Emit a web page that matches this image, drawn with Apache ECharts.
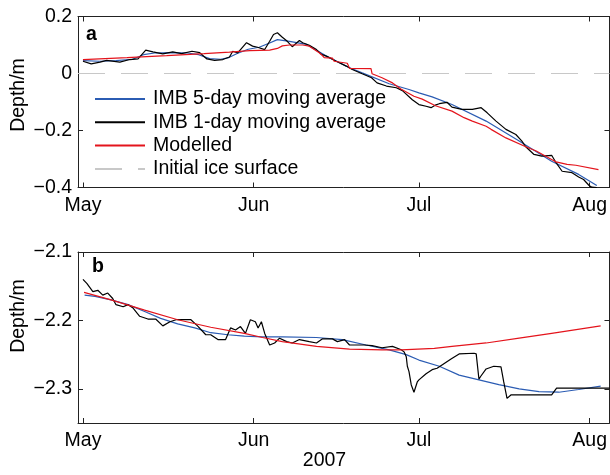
<!DOCTYPE html>
<html>
<head>
<meta charset="utf-8">
<script src="https://cdn.jsdelivr.net/npm/echarts@6/dist/echarts.min.js"></script>
<style>
  html, body { margin: 0; padding: 0; background: #fff; }
  #chart { width: 610px; height: 475px; }
</style>
</head>
<body>
<div id="chart"></div>
<script>
// x values are days since 1 May 2007
const monthDays = [0, 31, 61, 92];
const monthNames = ['May', 'Jun', 'Jul', 'Aug'];
const surfaceTicks = [-0.4, -0.2, 0, 0.2];
const bottomTicks = [-2.3, -2.2, -2.1];
const initialSurface = 0;

// (a) ice surface position, m
const surfaceImb5 = [
  [0, 0.045], [3, 0.043], [6, 0.045], [9, 0.050], [11, 0.066], [13, 0.072], [16, 0.073],
  [19, 0.072], [21, 0.066], [23, 0.052], [25, 0.050], [26.5, 0.056], [28, 0.070], [30, 0.085],
  [32, 0.092], [34, 0.108], [35.3, 0.119], [37.5, 0.113], [40.6, 0.102], [44.2, 0.061],
  [48.4, 0.020], [50.7, 0.002], [55.6, -0.036], [59.2, -0.056], [61.0, -0.068], [63.4, -0.082],
  [67.0, -0.109], [73.2, -0.167], [79.2, -0.237], [85.1, -0.308], [90.0, -0.354], [93.3, -0.393]
];
const surfaceImb1 = [
  [0, 0.043], [1.5, 0.034], [3.1, 0.040], [4.3, 0.046], [6.7, 0.040], [8.5, 0.049], [10.0, 0.051],
  [11.4, 0.082], [12.7, 0.076], [14.5, 0.069], [16.3, 0.076], [17.9, 0.070], [19.8, 0.078],
  [21.2, 0.073], [22.5, 0.051], [23.9, 0.046], [25.4, 0.049], [26.6, 0.058], [27.2, 0.078],
  [28.1, 0.072], [29.7, 0.108], [30.8, 0.096], [31.7, 0.092], [33.0, 0.084], [33.9, 0.113],
  [34.6, 0.137], [35.3, 0.143], [36.2, 0.127], [37.1, 0.113], [38.0, 0.094], [39.3, 0.116],
  [39.9, 0.108], [41.1, 0.099], [42.4, 0.084], [43.3, 0.067], [44.2, 0.061], [46.0, 0.043],
  [47.8, 0.026], [48.9, 0.014], [50.7, -0.001], [52.4, -0.015], [53.4, -0.033], [55.1, -0.044],
  [56.9, -0.050], [58.0, -0.060], [59.8, -0.092], [61.0, -0.109], [62.3, -0.115], [63.2, -0.120],
  [64.1, -0.110], [64.7, -0.106], [66.1, -0.101], [67.0, -0.118], [68.8, -0.126], [70.7, -0.126],
  [72.3, -0.120], [73.4, -0.138], [75.0, -0.167], [76.8, -0.196], [78.6, -0.214], [79.7, -0.237],
  [80.4, -0.257], [81.9, -0.284], [83.3, -0.290], [85.1, -0.287], [85.9, -0.313], [87.0, -0.343],
  [88.8, -0.348], [90.0, -0.363], [90.9, -0.372], [91.9, -0.393], [92.4, -0.399], [93.3, -0.400]
];
const surfaceModel = [
  [0, 0.049], [8, 0.056], [15.2, 0.063], [22, 0.070], [26.6, 0.075], [30.3, 0.080], [33.9, 0.082],
  [35.3, 0.088], [36.2, 0.097], [37.5, 0.100], [39.9, 0.100], [41.1, 0.096], [42.9, 0.073],
  [43.3, 0.066], [43.8, 0.056], [45.3, 0.054], [45.6, 0.043], [48.0, 0.036], [48.4, 0.018],
  [52.3, 0.017], [52.5, -0.001], [54.3, -0.015], [56.2, -0.033], [57.8, -0.055], [60.1, -0.080],
  [61.6, -0.090], [64.0, -0.113], [67.0, -0.132], [69.2, -0.155], [70.7, -0.167], [73.2, -0.185],
  [74.1, -0.196], [76.8, -0.226], [80.4, -0.257], [82.3, -0.272], [85.1, -0.302], [85.9, -0.310],
  [87.9, -0.319], [89.5, -0.322], [93.6, -0.337]
];

// (b) ice bottom position, m
const bottomImb5 = [
  [0.3, -2.163], [2.2, -2.165], [5.1, -2.170], [8.2, -2.177], [11.2, -2.187], [14.1, -2.197],
  [17.2, -2.205], [20.3, -2.211], [23.2, -2.218], [26.3, -2.221], [29.3, -2.223], [32.6, -2.224],
  [36.2, -2.224], [42.4, -2.225], [47.1, -2.228], [51.4, -2.236], [55.6, -2.243], [58.7, -2.250],
  [61.0, -2.258], [64.7, -2.267], [68.3, -2.280], [71.9, -2.287], [75.5, -2.294], [79.2, -2.300],
  [82.8, -2.304], [86.4, -2.305], [90.0, -2.301], [94.0, -2.296]
];
const bottomImb1 = [
  [0, -2.140], [0.7, -2.146], [0.9, -2.147], [1.8, -2.158], [2.7, -2.156], [3.6, -2.163],
  [4.5, -2.160], [5.4, -2.168], [6.0, -2.177], [7.3, -2.180], [8.2, -2.177], [9.1, -2.182],
  [10.3, -2.194], [11.8, -2.198], [13.2, -2.198], [14.5, -2.208], [15.8, -2.202], [16.9, -2.199],
  [19.6, -2.199], [20.8, -2.208], [22.3, -2.221], [23.2, -2.221], [24.5, -2.228], [25.9, -2.228],
  [26.8, -2.211], [27.7, -2.214], [28.6, -2.209], [29.5, -2.219], [30.4, -2.199], [31.3, -2.202],
  [31.8, -2.211], [32.4, -2.202], [33.0, -2.219], [33.9, -2.236], [34.8, -2.233], [35.7, -2.226],
  [37.0, -2.231], [38.0, -2.233], [39.3, -2.228], [41.1, -2.231], [42.4, -2.233], [43.5, -2.227],
  [45.3, -2.227], [46.2, -2.231], [47.5, -2.228], [48.4, -2.236], [51.1, -2.236], [52.5, -2.237],
  [54.3, -2.240], [56.2, -2.238], [57.8, -2.243], [58.3, -2.246], [58.7, -2.253], [58.9, -2.267],
  [59.2, -2.275], [59.6, -2.294], [60.1, -2.305], [60.7, -2.290], [61.0, -2.287], [62.3, -2.278],
  [63.4, -2.272], [64.3, -2.270], [65.6, -2.263], [66.9, -2.256], [68.3, -2.249], [71.0, -2.248],
  [71.4, -2.249], [71.9, -2.286], [72.2, -2.282], [73.2, -2.271], [74.6, -2.267], [75.9, -2.268],
  [76.4, -2.290], [77.0, -2.314], [77.7, -2.309], [85.1, -2.309], [86.0, -2.299], [95.6, -2.299]
];
const bottomModel = [
  [0.2, -2.159], [5.1, -2.170], [11.2, -2.185], [17.2, -2.199], [23.2, -2.210], [29.3, -2.219],
  [32.6, -2.225], [36.2, -2.231], [42.4, -2.238], [48.4, -2.242], [54.3, -2.243], [57.8, -2.243],
  [63.8, -2.241], [67.0, -2.238], [73.2, -2.233], [79.2, -2.226], [85.1, -2.219], [94.0, -2.208]
];

const names = ['IMB 5-day moving average', 'IMB 1-day moving average', 'Modelled', 'Initial ice surface'];
const colors = ['#2b5cb3', '#000000', '#e4141c', '#c8c8c8'];

const FONT = '"Liberation Sans", Arial, Helvetica, sans-serif';
const FS = 19.5;
const AXIS_COLOR = '#222';
const X_MIN = -0.9, X_MAX = 95.6;
const minus = s => s.replace('-', '\u2212');

const chart = echarts.init(document.getElementById('chart'), null, { renderer: 'canvas' });

const grids = [
  { left: 78, right: -1, top: 16.5, height: 171 },
  { left: 78, right: -1, top: 252, height: 171 }
];

function xAxes(gridIndex) {
  const base = {
    type: 'value', gridIndex, min: X_MIN, max: X_MAX,
    axisLine: { show: true, onZero: false, lineStyle: { color: AXIS_COLOR, width: 1 } },
    axisTick: { show: true, inside: true, length: 5, customValues: monthDays, lineStyle: { color: AXIS_COLOR } },
    splitLine: { show: false }
  };
  return [
    Object.assign({}, base, {
      position: 'bottom',
      axisLabel: {
        show: true, customValues: monthDays, margin: 8,
        color: '#000', fontFamily: FONT, fontSize: FS,
        formatter: v => monthNames[monthDays.indexOf(Math.round(v))] || ''
      }
    }),
    Object.assign({}, base, { position: 'top', axisLabel: { show: false } })
  ];
}

function yAxes(gridIndex, min, max, ticks) {
  const base = {
    type: 'value', gridIndex, min, max, scale: true,
    axisLine: { show: true, onZero: false, lineStyle: { color: AXIS_COLOR, width: 1 } },
    axisTick: { show: true, inside: true, length: 5, customValues: ticks, lineStyle: { color: AXIS_COLOR } },
    splitLine: { show: false }
  };
  return [
    Object.assign({}, base, {
      position: 'left',
      axisLabel: {
        show: true, customValues: ticks, margin: 6,
        color: '#000', fontFamily: FONT, fontSize: FS,
        formatter: v => Math.abs(v) < 1e-9 ? '0' : minus(v.toFixed(1))
      }
    }),
    Object.assign({}, base, { position: 'right', axisLabel: { show: false } })
  ];
}

function line(name, color, data, xi, yi, extra) {
  return Object.assign({
    type: 'line', name, data, xAxisIndex: xi, yAxisIndex: yi,
    showSymbol: false, symbol: 'none', animation: false, silent: true,
    lineStyle: { color, width: 1.2 }, itemStyle: { color, opacity: 0 }
  }, extra || {});
}

const option = {
  backgroundColor: '#fff',
  animation: false,
  grid: grids,
  xAxis: [...xAxes(0), ...xAxes(1)],
  yAxis: [...yAxes(0, -0.4, 0.2, surfaceTicks), ...yAxes(1, -2.35, -2.1, bottomTicks)],
  legend: {
    data: names,
    orient: 'vertical',
    left: 89, top: 83,
    itemWidth: 50, itemHeight: 14, itemGap: 1.3,
    itemStyle: { opacity: 0 },
    textStyle: { fontFamily: FONT, fontSize: FS, color: '#000', lineHeight: 22, padding: [0, 0, 0, 3] },
    selectedMode: false
  },
  series: [
    line(names[3], colors[3], [[X_MIN, initialSurface], [X_MAX, initialSurface]], 0, 0,
      { lineStyle: { color: colors[3], width: 1.2, type: [27, 16] }, z: 1 }),
    line(names[0], colors[0], surfaceImb5, 0, 0, { z: 2 }),
    line(names[1], colors[1], surfaceImb1, 0, 0, { z: 3 }),
    line(names[2], colors[2], surfaceModel, 0, 0, { z: 4 }),
    line(names[0], colors[0], bottomImb5, 2, 2, { z: 2 }),
    line(names[1], colors[1], bottomImb1, 2, 2, { z: 3 }),
    line(names[2], colors[2], bottomModel, 2, 2, { z: 4 })
  ],
  graphic: [
    { type: 'text', x: 18.5, y: 95, rotation: Math.PI / 2, silent: true,
      style: { text: 'Depth/m', fontFamily: FONT, fontSize: FS, fill: '#000', align: 'center', verticalAlign: 'middle' } },
    { type: 'text', x: 18.5, y: 316, rotation: Math.PI / 2, silent: true,
      style: { text: 'Depth/m', fontFamily: FONT, fontSize: FS, fill: '#000', align: 'center', verticalAlign: 'middle' } },
    { type: 'text', x: 86, y: 35, silent: true,
      style: { text: 'a', fontFamily: FONT, fontSize: FS, fontWeight: 'bold', fill: '#000', align: 'left', verticalAlign: 'middle' } },
    { type: 'text', x: 92, y: 267, silent: true,
      style: { text: 'b', fontFamily: FONT, fontSize: FS, fontWeight: 'bold', fill: '#000', align: 'left', verticalAlign: 'middle' } },
    { type: 'text', x: 324.5, y: 461, silent: true,
      style: { text: '2007', fontFamily: FONT, fontSize: FS, fill: '#000', align: 'center', verticalAlign: 'middle' } }
  ]
};

chart.setOption(option);
</script>
</body>
</html>
